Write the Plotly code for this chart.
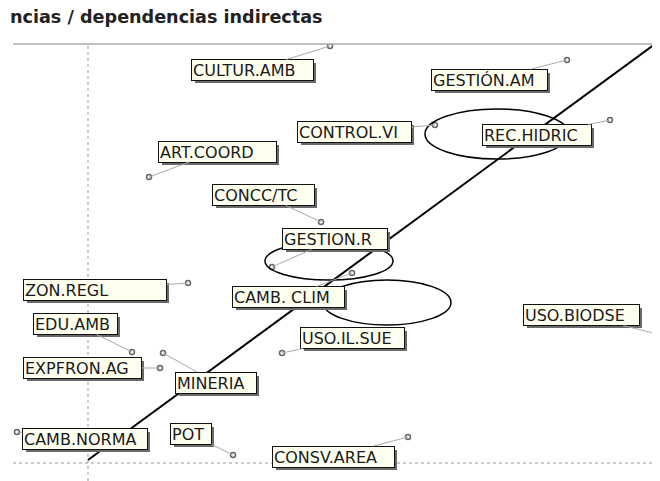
import plotly.graph_objects as go

# variables (MICMAC): dependencia indirecta (x) / influencia indirecta (y)
variables = ['CULTUR.AMB', 'GESTIÓN.AM', 'CONTROL.VI', 'REC.HIDRIC', 'ART.COORD',
             'CONCC/TC', 'GESTION.R', 'CAMB. CLIM', 'ZON.REGL', 'EDU.AMB',
             'EXPFRON.AG', 'MINERIA', 'USO.IL.SUE', 'USO.BIODSE', 'CAMB.NORMA',
             'POT', 'CONSV.AREA']
dependencia = [317, 554, 422, 597, 136, 308, 259, 339, 175, 119,
               147, 150, 269, 644, 4, 220, 395]
influencia = [435, 421, 356, 361, 304, 259, 214, 208, 198, 129,
              113, 128, 128, 147, 49, 26, 44]

# means (crosshair)
media_dep = 75
media_inf = 18

# hand drawn marks on top of the chart
diagonal = [(75, 21), (642, 437)]
elipses = [(412, 322, 556, 372), (252, 201, 380, 239), (310, 156, 438, 201)]

# label placement (pixel offsets of the box centre from the point) and box widths
label_dx = [-77.5, -77.5, -80.5, -73, 68.5, -57.5, 63, -63.5, -93, -56.5,
            -77.5, 53, 70, -75.5, 68, -42, -74.5]
label_dy = [24, 19.5, 7, 15, -25.5, -27, -28, 24, 6.5, -28,
            0, 29.5, -15, -19, 7, -21, 19.5]
label_w = [123, 117, 115, 110, 119, 103, 106, 113, 144, 85,
           119, 82, 105, 117, 126, 42, 123]

fig = go.Figure()

fig.add_trace(go.Scatter(
    x=dependencia, y=influencia, mode='markers',
    marker=dict(symbol='circle-open', size=5, color='#666', line=dict(width=1.5)),
    hoverinfo='text', text=variables, showlegend=False
))

annotations = []
# shadows first
for i, v in enumerate(variables):
    annotations.append(dict(
        x=dependencia[i], y=influencia[i], xref='x', yref='y',
        axref='pixel', ayref='pixel',
        ax=label_dx[i] + 3, ay=label_dy[i] + 3,
        showarrow=True, arrowcolor='rgba(0,0,0,0)', arrowwidth=0.1,
        text=' ', width=label_w[i] - 4, height=18,
        bgcolor='#6a6a6a', borderpad=1, borderwidth=0,
        font=dict(size=16)
    ))
for i, v in enumerate(variables):
    annotations.append(dict(
        x=dependencia[i], y=influencia[i], xref='x', yref='y',
        axref='pixel', ayref='pixel',
        ax=label_dx[i], ay=label_dy[i],
        showarrow=True, arrowhead=0, arrowwidth=1, arrowcolor='#aaa',
        text=v, align='left', width=label_w[i] - 4, height=18,
        bgcolor='#fffff0', bordercolor='#111', borderwidth=1, borderpad=1,
        font=dict(family='DejaVu Sans', size=16, color='#1a1a1a')
    ))

# title (left part cut off in the original)
annotations.append(dict(
    text='<b>ncias / dependencias indirectas</b>', xref='paper', yref='paper',
    x=0, y=1, xanchor='left', yanchor='middle', xshift=-5, yshift=27,
    showarrow=False, font=dict(family='DejaVu Sans', size=17.6, color='#222')
))

shapes = [
    # crosshair
    dict(type='line', xref='x', yref='paper', x0=media_dep, x1=media_dep, y0=0, y1=1,
         line=dict(color='#999', width=1, dash='dot')),
    dict(type='line', xref='paper', yref='y', x0=0, x1=1, y0=media_inf, y1=media_inf,
         line=dict(color='#999', width=1, dash='dot')),
    # frame top / right
    dict(type='line', xref='paper', yref='paper', x0=0, x1=1, y0=1, y1=1,
         line=dict(color='#aaa', width=1.5)),
    dict(type='line', xref='paper', yref='paper', x0=1, x1=1, y0=0, y1=1,
         line=dict(color='#aaa', width=1.5)),
    dict(type='line', xref='x', yref='y', x0=diagonal[0][0], y0=diagonal[0][1],
         x1=diagonal[1][0], y1=diagonal[1][1], line=dict(color='black', width=2)),
]
for e in elipses:
    shapes.append(dict(type='circle', xref='x', yref='y', x0=e[0], y0=e[1], x1=e[2], y1=e[3],
                       line=dict(color='black', width=1.5)))

# the page body adds 8px, so the figure is made 8px smaller and margins shifted
fig.update_layout(
    width=652, height=473,
    margin=dict(l=5, r=2, t=36, b=0),
    plot_bgcolor='white', paper_bgcolor='white',
    xaxis=dict(range=[0, 645], showgrid=False, zeroline=False, showticklabels=False, ticks=''),
    yaxis=dict(range=[0, 437], showgrid=False, zeroline=False, showticklabels=False, ticks=''),
    annotations=annotations,
    shapes=shapes,
)

fig.write_html('out.html')
